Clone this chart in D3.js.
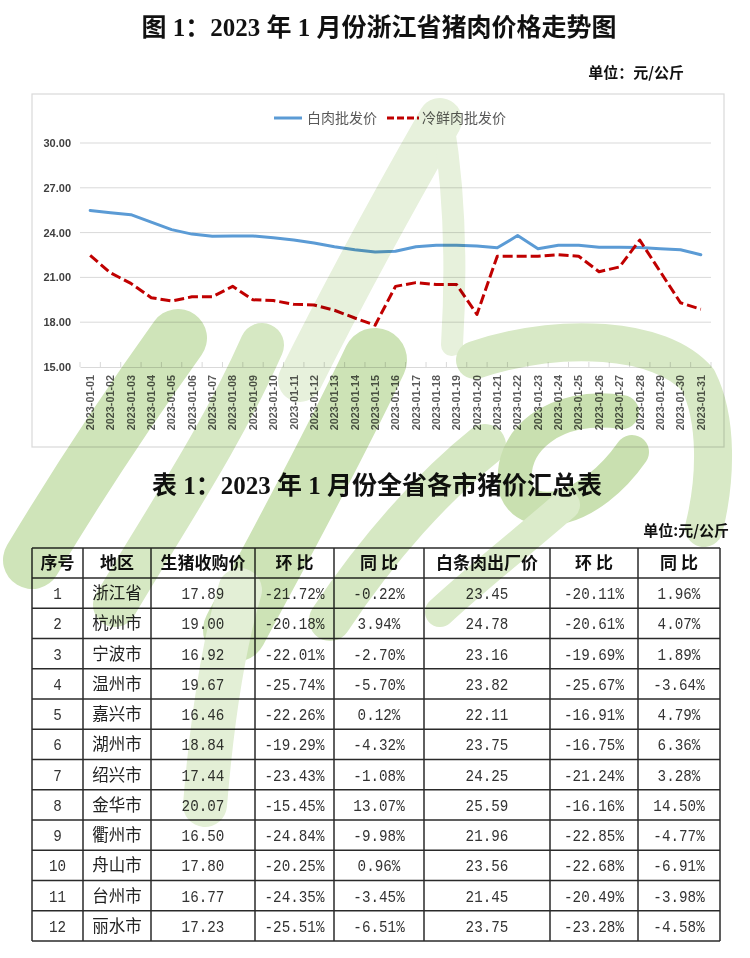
<!DOCTYPE html>
<html><head><meta charset="utf-8">
<script src="https://cdn.jsdelivr.net/npm/d3@7"></script>
<style>
html,body{margin:0;padding:0;background:#fff;}
svg{display:block;}
</style></head>
<body>
<svg id="c" width="750" height="958"></svg>
<script>
// ---------- DATA ----------
const dates = ["2023-01-01","2023-01-02","2023-01-03","2023-01-04","2023-01-05","2023-01-06","2023-01-07","2023-01-08","2023-01-09","2023-01-10","2023-01-11","2023-01-12","2023-01-13","2023-01-14","2023-01-15","2023-01-16","2023-01-17","2023-01-18","2023-01-19","2023-01-20","2023-01-21","2023-01-22","2023-01-23","2023-01-24","2023-01-25","2023-01-26","2023-01-27","2023-01-28","2023-01-29","2023-01-30","2023-01-31"];
const whitePork = [25.48,25.33,25.2,24.7,24.2,23.9,23.75,23.78,23.78,23.65,23.5,23.3,23.05,22.85,22.7,22.75,23.05,23.15,23.15,23.1,22.98,23.8,22.92,23.15,23.15,23.02,23.02,23.0,22.92,22.85,22.52];
const chilledPork = [22.47,21.3,20.6,19.64,19.42,19.7,19.7,20.4,19.5,19.45,19.2,19.15,18.8,18.28,17.8,20.4,20.65,20.52,20.52,18.52,22.42,22.42,22.42,22.52,22.42,21.38,21.7,23.5,21.4,19.3,18.87];
const seriesNames = ["白肉批发价","冷鲜肉批发价"];
const yTicks = [15,18,21,24,27,30];

const tableHeader = ["序号","地区","生猪收购价","环 比","同 比","白条肉出厂价","环 比","同 比"];
const regions = ["浙江省","杭州市","宁波市","温州市","嘉兴市","湖州市","绍兴市","金华市","衢州市","舟山市","台州市","丽水市"];
const hogPrice = ["17.89","19.00","16.92","19.67","16.46","18.84","17.44","20.07","16.50","17.80","16.77","17.23"];
const hogMoM = ["-21.72%","-20.18%","-22.01%","-25.74%","-22.26%","-19.29%","-23.43%","-15.45%","-24.84%","-20.25%","-24.35%","-25.51%"];
const hogYoY = ["-0.22%","3.94%","-2.70%","-5.70%","0.12%","-4.32%","-1.08%","13.07%","-9.98%","0.96%","-3.45%","-6.51%"];
const porkPrice = ["23.45","24.78","23.16","23.82","22.11","23.75","24.25","25.59","21.96","23.56","21.45","23.75"];
const porkMoM = ["-20.11%","-20.61%","-19.69%","-25.67%","-16.91%","-16.75%","-21.24%","-16.16%","-22.85%","-22.68%","-20.49%","-23.28%"];
const porkYoY = ["1.96%","4.07%","1.89%","-3.64%","4.79%","6.36%","3.28%","14.50%","-4.77%","-6.91%","-3.98%","-4.58%"];

// ---------- DRAW ----------
const svg = d3.select("#c");
const CJK = "'Noto Sans CJK SC','Noto Sans',sans-serif";
const SERIF = "'Liberation Serif','Noto Sans CJK SC',serif";

// titles
svg.append("text").attr("x",379).attr("y",36).attr("text-anchor","middle")
  .style("font-family",SERIF).style("font-weight","bold").style("font-size","25px").attr("fill","#111")
  .text("图 1：2023 年 1 月份浙江省猪肉价格走势图");
svg.append("text").attr("x",684).attr("y",78).attr("text-anchor","end")
  .style("font-family",CJK).style("font-weight","bold").style("font-size","15px").attr("fill","#111")
  .text("单位：元/公斤");

// chart frame
svg.append("rect").attr("x",32).attr("y",94).attr("width",692).attr("height",353)
  .attr("fill","#fff").attr("stroke","#d9d9d9").attr("stroke-width",1.2);

const x = d3.scaleBand().domain(dates).range([80,711]).paddingInner(0).paddingOuter(0);
const y = d3.scaleLinear().domain([15,30]).range([367,143]);
const cx = d => x(d) + x.bandwidth()/2;

// grid
svg.append("g").selectAll("line").data(yTicks.filter(t=>t>15)).join("line")
  .attr("x1",80).attr("x2",711).attr("y1",d=>y(d)).attr("y2",d=>y(d))
  .attr("stroke","#d9d9d9").attr("stroke-width",1);

// y axis labels
const yAxis = d3.axisLeft(y).tickValues(yTicks).tickFormat(d3.format(".2f")).tickSize(0).tickPadding(9);
const yg = svg.append("g").attr("transform","translate(80,0)").call(yAxis);
yg.select(".domain").remove();
yg.selectAll("text").style("font-family","'Liberation Sans',Arial,sans-serif").style("font-weight","bold")
  .style("font-size","11px").attr("fill","#404040");

// x axis
const xAxis = d3.axisBottom(x).tickSize(0).tickPadding(0);
const xg = svg.append("g").attr("transform","translate(0,367)").call(xAxis);
xg.select(".domain").attr("stroke","#d9d9d9");
xg.selectAll(".tick text").attr("transform","translate(0,8) rotate(-90)").attr("text-anchor","end")
  .attr("dy","0.35em").attr("x",0).attr("y",0)
  .style("font-family","'Liberation Sans',Arial,sans-serif").style("font-weight","bold")
  .style("font-size","10.8px").attr("fill","#595959");
const bounds = dates.map(d=>x(d)).concat([x(dates[dates.length-1])+x.bandwidth()]);
svg.append("g").selectAll("line").data(bounds).join("line")
  .attr("x1",d=>d).attr("x2",d=>d).attr("y1",367).attr("y2",362)
  .attr("stroke","#d9d9d9").attr("stroke-width",1);

// lines
const line = d3.line().x((d,i)=>cx(dates[i])).y(d=>y(d));
svg.append("path").datum(whitePork).attr("d",line).attr("fill","none")
  .attr("stroke","#5B9BD5").attr("stroke-width",3).attr("stroke-linejoin","round").attr("stroke-linecap","round");
svg.append("path").datum(chilledPork).attr("d",line).attr("fill","none")
  .attr("stroke","#C00000").attr("stroke-width",3).attr("stroke-dasharray","10,4").attr("stroke-linejoin","round");

// legend
const lg = svg.append("g");
lg.append("line").attr("x1",274).attr("x2",302).attr("y1",118).attr("y2",118).attr("stroke","#5B9BD5").attr("stroke-width",3);
lg.append("text").attr("x",307).attr("y",123).text(seriesNames[0])
  .style("font-family",CJK).style("font-size","14px").attr("fill","#595959");
lg.append("line").attr("x1",387).attr("x2",419).attr("y1",118).attr("y2",118).attr("stroke","#C00000").attr("stroke-width",3).attr("stroke-dasharray","7,3");
lg.append("text").attr("x",422).attr("y",123).text(seriesNames[1])
  .style("font-family",CJK).style("font-size","14px").attr("fill","#595959");

// table title
svg.append("text").attr("x",377).attr("y",494).attr("text-anchor","middle")
  .style("font-family",SERIF).style("font-weight","bold").style("font-size","25px").attr("fill","#111")
  .text("表 1：2023 年 1 月份全省各市猪价汇总表");
svg.append("text").attr("x",729).attr("y",536).attr("text-anchor","end")
  .style("font-family",CJK).style("font-weight","bold").style("font-size","15px").attr("fill","#111")
  .text("单位:元/公斤");

// table
const colEdges = [32,83,151,255,334,424,550,638,720];
const tTop = 548, headH = 30, rowH = 30.25;
const rowsData = regions.map((r,i)=>[String(i+1), r, hogPrice[i], hogMoM[i], hogYoY[i], porkPrice[i], porkMoM[i], porkYoY[i]]);
const rowY = d3.scaleBand().domain(d3.range(rowsData.length)).range([tTop+headH, tTop+headH+rowH*rowsData.length]);
const tb = svg.append("g");
const colC = i => (colEdges[i]+colEdges[i+1])/2;
tb.selectAll("text.h").data(tableHeader).join("text")
  .attr("x",(d,i)=>colC(i)).attr("y",tTop+headH/2).attr("dy","0.36em").attr("text-anchor","middle")
  .style("font-family",CJK).style("font-weight","bold").style("font-size","17px").attr("fill","#111")
  .text(d=>d);
rowsData.forEach((row,ri)=>{
  const yc = rowY(ri)+rowH/2;
  row.forEach((v,ci)=>{
    if(ci===1){
      tb.append("text").attr("x",colC(ci)).attr("y",yc).attr("dy","0.36em").attr("text-anchor","middle")
        .style("font-family",CJK).style("font-size","16.5px").attr("fill","#222").text(v);
    } else {
      tb.append("text").attr("transform",`translate(${colC(ci)},${yc}) scale(0.84,1)`).attr("dy","0.36em")
        .attr("text-anchor","middle").style("font-family","'Liberation Mono','DejaVu Sans Mono',monospace")
        .style("font-size","17px").attr("fill","#333").text(v);
    }
  });
});
const tBottom = tTop+headH+rowH*rowsData.length;
const hLines = [tTop, tTop+headH].concat(d3.range(1,rowsData.length+1).map(i=>tTop+headH+rowH*i));
tb.selectAll("line.hl").data(hLines).join("line")
  .attr("x1",colEdges[0]).attr("x2",colEdges[colEdges.length-1]).attr("y1",d=>d).attr("y2",d=>d)
  .attr("stroke","#2a2a2a").attr("stroke-width",1.5);
tb.selectAll("line.vl").data(colEdges).join("line")
  .attr("x1",d=>d).attr("x2",d=>d).attr("y1",tTop).attr("y2",tBottom)
  .attr("stroke","#2a2a2a").attr("stroke-width",1.5);

// watermark (approximate green brush logo), multiplied over everything
const wm = svg.append("g").style("mix-blend-mode","multiply").attr("fill","none").attr("stroke-linecap","round");
const wmStrokes = [
  {d:"M 300 380 C 350 280, 400 190, 440 120", w:44, c:"#e7f1dc"},
  {d:"M 443 122 C 456 200, 456 280, 452 345", w:22, c:"#e7f1dc"},
  {d:"M 32 560 C 80 480, 130 405, 178 338", w:58, c:"#cfe4b9"},
  {d:"M 115 605 C 165 520, 220 440, 262 345", w:44, c:"#d6e8c3"},
  {d:"M 235 630 C 275 555, 330 455, 375 360", w:64, c:"#cde3b6"},
  {d:"M 205 805 C 212 720, 222 650, 240 590", w:44, c:"#e3efd6"},
  {d:"M 330 620 C 380 545, 435 485, 485 445", w:42, c:"#d6e8c3"},
  {d:"M 475 360 C 560 332, 660 336, 698 380 C 718 420, 716 480, 704 528", w:38, c:"#d8e9c6"},
  {d:"M 622 412 C 556 402, 506 440, 516 490 C 530 524, 590 512, 632 452", w:34, c:"#c9e0b0"},
  {d:"M 440 612 C 480 575, 525 540, 565 505", w:30, c:"#dbebca"}
];
wm.selectAll("path").data(wmStrokes).join("path").attr("d",d=>d.d).attr("stroke",d=>d.c).attr("stroke-width",d=>d.w);
</script>
</body></html>
